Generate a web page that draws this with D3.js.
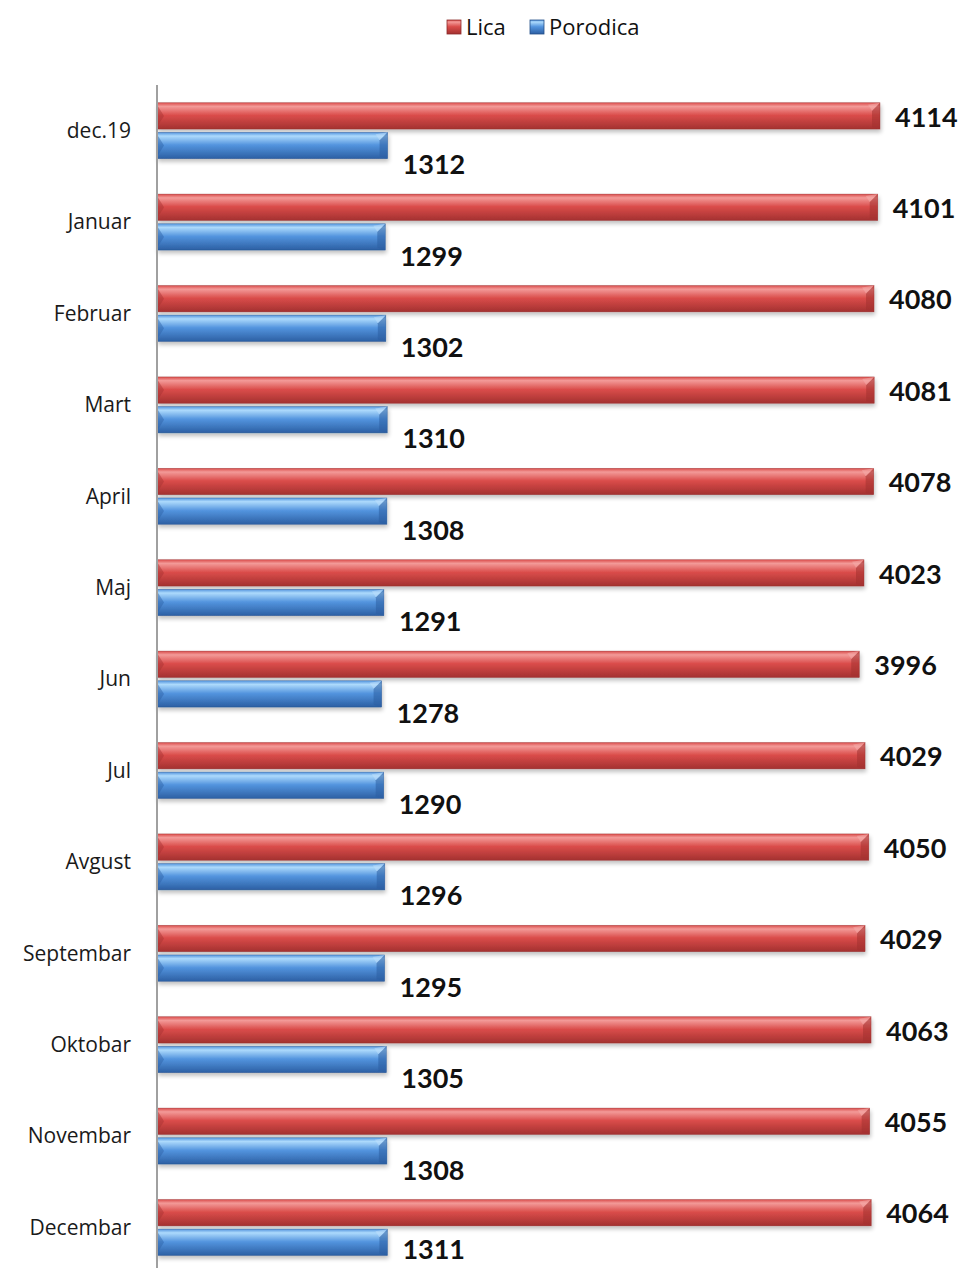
<!DOCTYPE html>
<html>
<head>
<meta charset="utf-8">
<script src="https://cdn.jsdelivr.net/npm/d3@7"></script>
<style>
  body { margin: 0; background: #fff; }
  .cat { font-family: "Open Sans", sans-serif; font-size: 21px; fill: #1a1a1a; }
  .val { font-family: Lato, sans-serif; font-weight: bold; font-size: 27px; fill: #111; }
  .leg { font-family: "Open Sans", sans-serif; font-size: 22px; fill: #111; }
</style>
</head>
<body>
<div id="chart"></div>
<script>
// Mjeseci i vrijednosti (pročitano s grafikona)
const months = ["dec.19", "Januar", "Februar", "Mart", "April", "Maj", "Jun", "Jul",
  "Avgust", "Septembar", "Oktobar", "Novembar", "Decembar"];
const series = ["Lica", "Porodica"];
const lica = [4114, 4101, 4080, 4081, 4078, 4023, 3996, 4029, 4050, 4029, 4063, 4055, 4064];
const porodica = [1312, 1299, 1302, 1310, 1308, 1291, 1278, 1290, 1296, 1295, 1305, 1308, 1311];

const W = 963, H = 1268;
const svg = d3.select("#chart").append("svg").attr("width", W).attr("height", H);
const defs = svg.append("defs");

const palette = {
  Lica: { top: "#f39a98", mid: "#da4c4a", bot: "#a33130", edge: "#8c2a29", hi: "#f6b0ae" },
  Porodica: { top: "#addafc", mid: "#5394de", bot: "#2c5fa3", edge: "#244f88", hi: "#c0e0fc" }
};

Object.entries(palette).forEach(([k, c]) => {
  const g = defs.append("linearGradient").attr("id", "g-" + k)
    .attr("x1", 0).attr("y1", 0).attr("x2", 0).attr("y2", 1);
  g.append("stop").attr("offset", "0%").attr("stop-color", c.mid);
  g.append("stop").attr("offset", "14%").attr("stop-color", c.top);
  g.append("stop").attr("offset", "48%").attr("stop-color", c.mid);
  g.append("stop").attr("offset", "100%").attr("stop-color", c.bot);
});

const shadow = defs.append("filter").attr("id", "shadow")
  .attr("x", "-5%").attr("y", "-30%").attr("width", "110%").attr("height", "180%");
shadow.append("feGaussianBlur").attr("in", "SourceAlpha").attr("stdDeviation", 2);
shadow.append("feOffset").attr("dx", 1).attr("dy", 3).attr("result", "b");
shadow.append("feComponentTransfer").append("feFuncA").attr("type", "linear").attr("slope", 0.25);
const mrg = shadow.append("feMerge");
mrg.append("feMergeNode");
mrg.append("feMergeNode").attr("in", "SourceGraphic");

const x = d3.scaleLinear().domain([0, 4114]).range([157, 880]);
const y = d3.scaleBand().domain(months).range([85, 85 + 13 * 91.4]);
const yIn = d3.scaleBand().domain(series)
  .range([y.bandwidth() / 2 - 28, y.bandwidth() / 2 + 28]).paddingInner(0.11);

const data = months.map((m, i) => ({ m, vals: [lica[i], porodica[i]] }));

const rows = svg.append("g").selectAll("g").data(data).join("g")
  .attr("transform", d => `translate(0,${y(d.m)})`);

series.forEach((s, si) => {
  const c = palette[s];
  const bar = rows.append("g").attr("filter", "url(#shadow)");
  const by = yIn(s), bh = yIn.bandwidth(), bev = 8;
  bar.append("rect")
    .attr("x", x(0)).attr("y", by)
    .attr("width", d => x(d.vals[si]) - x(0)).attr("height", bh)
    .attr("fill", `url(#g-${s})`)
    .attr("stroke", c.edge).attr("stroke-width", 0.6).attr("stroke-opacity", 0.6);
  // kosina na desnom kraju
  bar.append("polygon")
    .attr("points", d => {
      const xe = x(d.vals[si]);
      return `${xe},${by} ${xe - bev},${by + bev} ${xe - bev},${by + bh - 2} ${xe},${by + bh}`;
    })
    .attr("fill", c.bot).attr("opacity", 0.55);
  bar.append("polygon")
    .attr("points", d => {
      const xe = x(d.vals[si]);
      return `${xe},${by} ${xe - bev},${by + bev} ${xe - bev - 4},${by + 2}`;
    })
    .attr("fill", c.hi).attr("opacity", 0.5);
  // kosina na lijevom kraju
  bar.append("polygon")
    .attr("points", `${x(0)},${by + 2} ${x(0) + 7},${by + bh / 2} ${x(0)},${by + bh - 2}`)
    .attr("fill", c.bot).attr("opacity", 0.45);

  // natpisi: Lica uz traku, Porodica malo ispod trake (ostaje unutar slike)
  rows.append("text").attr("class", "val")
    .attr("x", d => x(d.vals[si]) + 15)
    .attr("y", d => {
      const yy = by + bh / 2 + (si === 0 ? 1 : 19);
      return Math.min(yy, H - 19 - y(d.m));
    })
    .attr("dy", "0.36em")
    .text(d => d.vals[si]);
});

// osa
svg.append("line")
  .attr("x1", x(0)).attr("x2", x(0)).attr("y1", 85).attr("y2", H)
  .attr("stroke", "#a0a0a0").attr("stroke-width", 2);

svg.append("g").selectAll("text").data(months).join("text")
  .attr("class", "cat")
  .attr("x", 131).attr("y", d => y(d) + y.bandwidth() / 2)
  .attr("dy", "0.35em").attr("text-anchor", "end")
  .text(d => d);

// legenda
const leg = svg.append("g");
const legX = [447, 530];
series.forEach((s, i) => {
  leg.append("rect").attr("x", legX[i]).attr("y", 20).attr("width", 14).attr("height", 14)
    .attr("fill", `url(#g-${s})`).attr("stroke", palette[s].edge).attr("stroke-width", 0.8);
  leg.append("text").attr("class", "leg").attr("x", legX[i] + 19).attr("y", 27)
    .attr("dy", "0.36em").text(s);
});
</script>
</body>
</html>
